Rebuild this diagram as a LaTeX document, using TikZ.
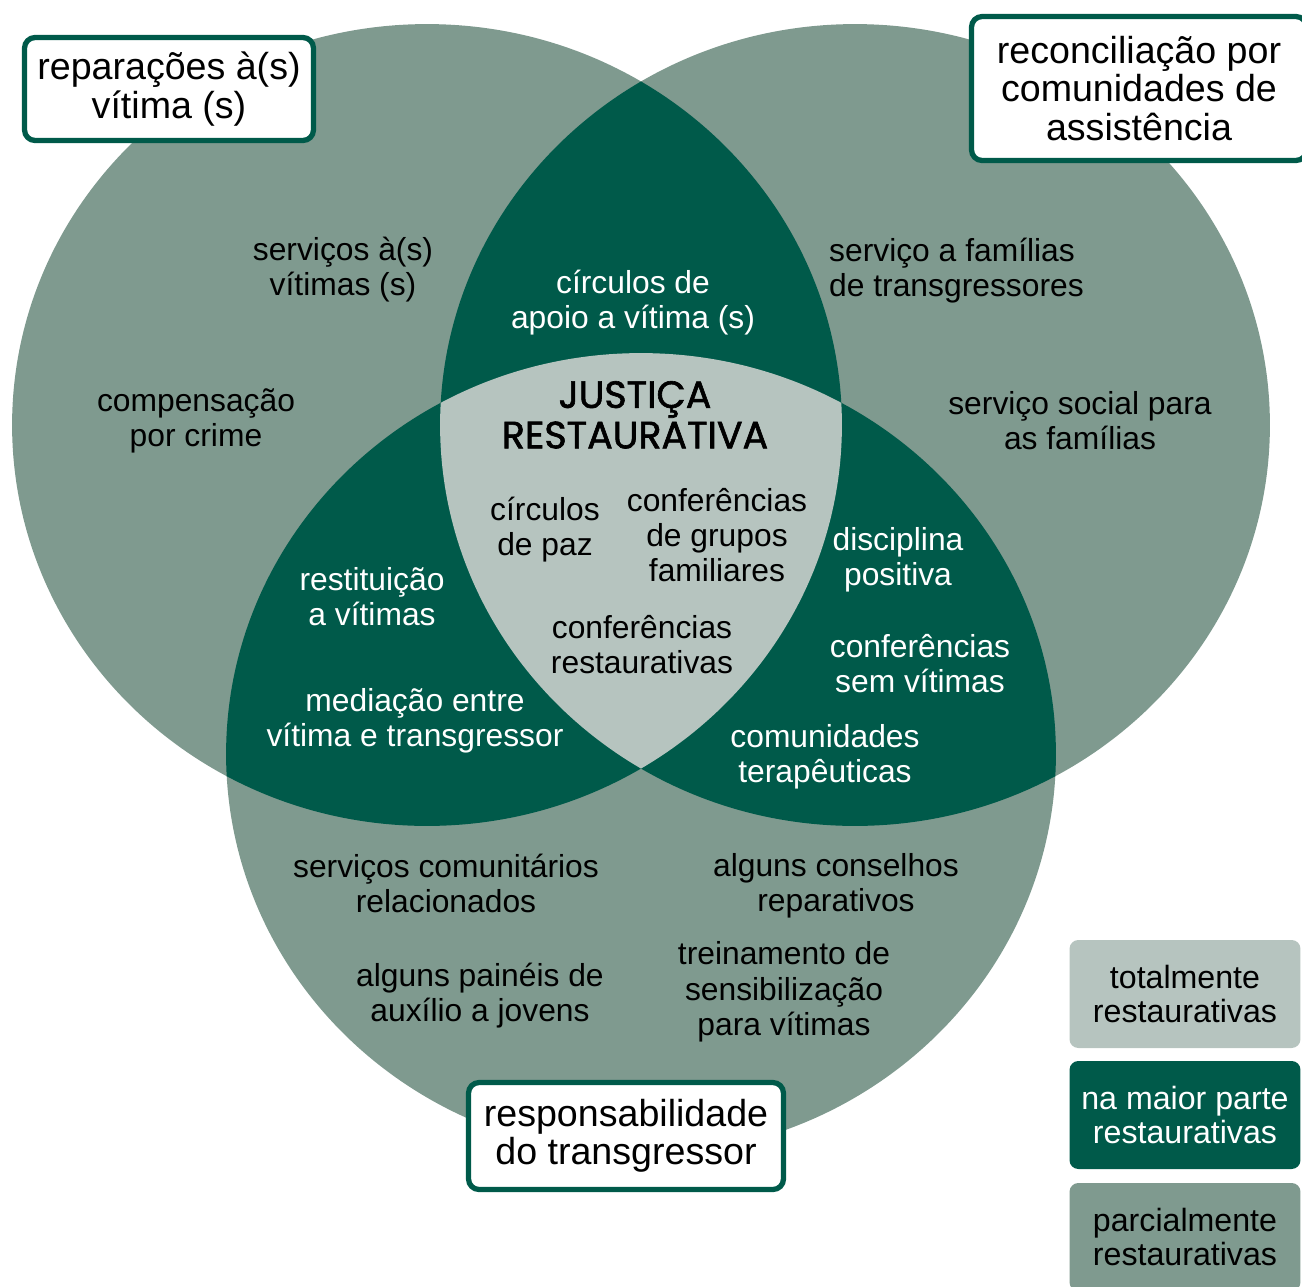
\documentclass[tikz,border=0pt]{standalone}
\usepackage{fontspec}
\setmainfont{Liberation Sans}
\newfontfamily\titlefont{Poppins}[FakeBold=1.6]
\usepackage{tikz}
\usetikzlibrary{positioning}
\definecolor{partial}{RGB}{127,154,143}
\definecolor{mostly}{RGB}{0,90,74}
\definecolor{fully}{RGB}{182,196,191}
\newcommand{\vennrx}{8.3cm}
\newcommand{\vennry}{8.02cm}

\begin{document}
\begin{tikzpicture}[x=0.02cm, y=-0.02cm]
\tikzstyle{region}=[align=center, yshift=-1.6pt, font=\fontsize{18.1}{20}\selectfont]
\tikzstyle{dark region}=[region, text=white]
\tikzstyle{set label}=[draw=mostly, line width=3pt, fill=white, rounded corners=6pt, align=center, font=\fontsize{21.4}{21.8}\selectfont]
\tikzstyle{legend}=[rounded corners=5pt, align=center, minimum width=4.62cm, minimum height=2.16cm, font=\fontsize{18.3}{19.5}\selectfont]
\clip (0,0) rectangle (1302,1286);
\coordinate (victim)    at (427,425);
\coordinate (community) at (855,425);
\coordinate (offender)  at (641,754);
% the three sets
\fill[partial] (victim) ellipse [x radius=\vennrx, y radius=\vennry];
\fill[partial] (community) ellipse [x radius=\vennrx, y radius=\vennry];
\fill[partial] (offender) ellipse [x radius=\vennrx, y radius=\vennry];
% overlaps of two
\begin{scope}
\clip (victim) ellipse [x radius=\vennrx, y radius=\vennry];
\fill[mostly] (community) ellipse [x radius=\vennrx, y radius=\vennry];
\fill[mostly] (offender) ellipse [x radius=\vennrx, y radius=\vennry];
\end{scope}
\begin{scope}
\clip (community) ellipse [x radius=\vennrx, y radius=\vennry];
\fill[mostly] (offender) ellipse [x radius=\vennrx, y radius=\vennry];
\end{scope}
% overlap of all three
\begin{scope}
\clip (victim) ellipse [x radius=\vennrx, y radius=\vennry];
\clip (community) ellipse [x radius=\vennrx, y radius=\vennry];
\fill[fully] (offender) ellipse [x radius=\vennrx, y radius=\vennry];
\end{scope}

\node[set label, minimum width=5.78cm, minimum height=2.06cm] (repair) at (169,89) {repara\c{c}ões à(s)\\vítima (s)};
\node[set label, minimum width=6.7cm, minimum height=2.88cm] (reconcile) at (1139,88.5) {reconciliação por\\comunidades de\\assistência};
\node[set label, minimum width=6.3cm, minimum height=2.14cm] (respons) at (626,1136) {responsabilidade\\do transgressor};

\node[region] (victimserv)  at (343,267)  {serviços à(s)\\vítimas (s)};
\node[region] (compens)     at (196,418)  {compensação\\por crime};
\node[region, align=left, anchor=west] (famserv) at (823,268) {serviço a famílias\\de transgressores};
\node[region] (social)      at (1080,418) {serviço social para\\as famílias};
\node[dark region] (support) at (633,300) {círculos de\\apoio a vítima (s)};
\node[region, font=\titlefont\fontsize{21.6}{21}\selectfont] (rj) at (635,412) {JUSTIÇA\\[2pt]RESTAURATIVA};
\node[region] (peace)       at (545,527)  {círculos\\de paz};
\node[region] (family)      at (717,532)  {conferências\\de grupos\\familiares};
\node[region] (restconf)    at (642,642)  {conferências\\restaurativas};
\node[dark region] (restit)  at (372,594) {restituição\\a vítimas};
\node[dark region] (mediat)  at (415,718) {mediação entre\\vítima e transgressor};
\node[dark region] (discip)  at (898,557) {disciplina\\positiva};
\node[dark region] (novict)  at (920,661) {conferências\\sem vítimas};
\node[dark region] (therap)  at (825,754) {comunidades\\terapêuticas};
\node[region] (commserv)    at (446,881)  {serviços comunitários\\relacionados};
\node[region] (boards)      at (836,883)  {alguns conselhos\\reparativos};
\node[region] (youth)       at (480,993)  {alguns painéis de\\auxílio a jovens};
\node[region] (training)    at (784,989)  {treinamento de\\sensibilização\\para vítimas};

\node[legend, fill=fully] (fullkey) at (1185,994) {totalmente\\restaurativas};
\node[legend, fill=mostly, text=white] (mostkey) at (1185,1115) {na maior parte\\restaurativas};
\node[legend, fill=partial] (partkey) at (1185,1237) {parcialmente\\restaurativas};
\end{tikzpicture}
\end{document}
